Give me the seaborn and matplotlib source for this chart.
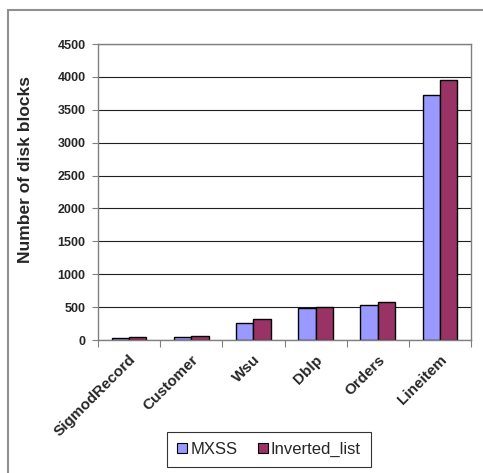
import matplotlib
matplotlib.use("Agg")
import matplotlib.pyplot as plt
from matplotlib.patches import Rectangle
import seaborn as sns
import pandas as pd

datasets = ["SigmodRecord", "Customer", "Wsu", "Dblp", "Orders", "Lineitem"]
mxss = [35, 45, 255, 480, 525, 3730]
inverted_list = [45, 55, 315, 505, 580, 3950]
series_names = ["MXSS", "Inverted_list"]
y_ticks = [0, 500, 1000, 1500, 2000, 2500, 3000, 3500, 4000, 4500]

df = pd.DataFrame({
    "dataset": datasets * 2,
    "blocks": mxss + inverted_list,
    "method": [series_names[0]] * len(datasets) + [series_names[1]] * len(datasets),
})

sns.set_style("white")
plt.rcParams["font.family"] = ["Liberation Sans", "DejaVu Sans"]

fig = plt.figure(figsize=(4.83, 4.73), dpi=100)
ax = fig.add_axes([98 / 483, 1 - 340 / 473, (471 - 98) / 483, (340 - 44) / 473])

palette = {"MXSS": "#9999FF", "Inverted_list": "#993366"}
sns.barplot(data=df, x="dataset", y="blocks", hue="method", order=datasets,
            hue_order=series_names, palette=palette, width=0.56,
            edgecolor="black", linewidth=1.0, saturation=1, ax=ax, legend=False)

ax.set_ylim(0, 4500)
ax.set_xlim(-0.5, len(datasets) - 0.5)
ax.set_yticks(y_ticks)
ax.set_yticklabels([str(t) for t in y_ticks], fontsize=9, fontweight="bold")
ax.yaxis.grid(True, color="#202020", linewidth=0.8)
ax.set_axisbelow(True)

# category separators as ticks, names centred underneath
ax.set_xticks([i - 0.5 for i in range(len(datasets) + 1)])
ax.set_xticklabels([])
ax.set_xticks(range(len(datasets)), minor=True)
ax.set_xticklabels(datasets, minor=True, rotation=45, ha="right",
                   rotation_mode="anchor", fontsize=11, fontweight="bold")
ax.tick_params(axis="x", which="major", direction="out", length=5, width=0.8,
               color="#808080", bottom=True)
ax.tick_params(axis="x", which="minor", length=0, pad=9)
ax.tick_params(axis="y", direction="out", length=4, width=0.8,
               color="#808080", left=True, pad=5)

for side in ["left", "right", "top", "bottom"]:
    ax.spines[side].set_visible(True)
    ax.spines[side].set_color("#808080")
    ax.spines[side].set_linewidth(1.0)

ax.set_xlabel("")
ax.set_ylabel("Number of disk blocks", fontsize=12.5, fontweight="bold")
ax.yaxis.set_label_coords(-0.174, 0.575)

handles = [Rectangle((0, 0), 1, 1, facecolor=palette[n], edgecolor="black",
                     linewidth=0.8) for n in series_names]
leg = fig.legend(handles, series_names, loc="center",
                 bbox_to_anchor=(269 / 483, 1 - 449.5 / 473), ncol=2,
                 frameon=True, fancybox=False, fontsize=12,
                 handlelength=0.6, handleheight=0.6, handletextpad=0.2,
                 columnspacing=1.2, borderpad=0.6)
leg.get_frame().set_edgecolor("black")
leg.get_frame().set_linewidth(0.8)

# outer chart-area border
fig.patches.append(Rectangle((8 / 483, -0.1), 1.2, 1.1 - 10 / 473,
                             transform=fig.transFigure, fill=False,
                             edgecolor="#909090", linewidth=1.5))

fig.savefig("out.png", dpi=100)
